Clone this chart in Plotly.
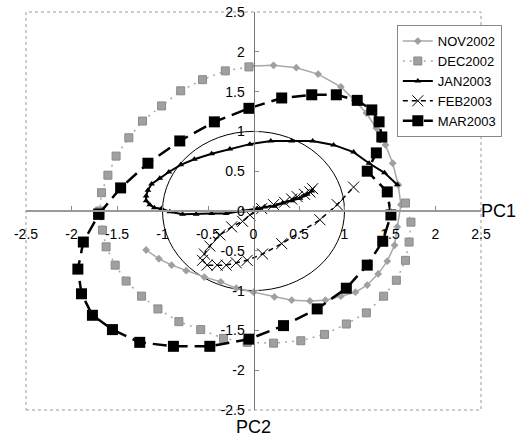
import plotly.graph_objects as go

# ---- data ----
nov_x = [-1.18, -1.04, -0.90, -0.74, -0.54, -0.36, -0.19, 0.00, 0.23, 0.42, 0.62, 0.79, 0.96, 1.12,
         1.25, 1.37, 1.47, 1.55, 1.58, 1.62, 1.59, 1.53, 1.45, 1.35, 1.24, 1.11, 0.96, 0.71, 0.47, 0.22, -0.03]
nov_y = [-0.49, -0.60, -0.68, -0.75, -0.83, -0.89, -0.97, -1.02, -1.08, -1.12, -1.13, -1.12, -1.07, -1.02,
         -0.93, -0.79, -0.63, -0.43, -0.20, 0.08, 0.33, 0.60, 0.83, 1.04, 1.23, 1.39, 1.56, 1.72, 1.80, 1.83, 1.82]

dec_x = [-0.05, -0.31, -0.56, -0.80, -1.01, -1.22, -1.37, -1.51, -1.60, -1.67, -1.69, -1.66, -1.62, -1.52,
         -1.40, -1.23, -1.05, -0.82, -0.58, -0.33, -0.07, 0.22, 0.52, 0.78, 1.02, 1.24, 1.43, 1.57, 1.67,
         1.71, 1.73, 1.67]
dec_y = [1.81, 1.76, 1.65, 1.51, 1.32, 1.13, 0.92, 0.69, 0.45, 0.23, 0.00, -0.24, -0.45, -0.68,
         -0.88, -1.07, -1.23, -1.39, -1.49, -1.60, -1.65, -1.66, -1.63, -1.55, -1.42, -1.28, -1.07, -0.87, -0.62,
         -0.39, -0.14, 0.10]

jan_x = [0.64, 0.59, 0.51, 0.42, 0.32, 0.23, 0.12, 0.04, -0.12, -0.30, -0.46, -0.63, -0.78, -0.92, -1.01,
         -1.09, -1.14, -1.18, -1.18, -1.16, -1.12, -1.03, -0.93, -0.80, -0.65, -0.46, -0.26, -0.04, 0.19,
         0.42, 0.65, 0.88, 1.10, 1.27, 1.44, 1.58]
jan_y = [0.25, 0.21, 0.16, 0.13, 0.10, 0.06, 0.05, 0.03, 0.00, -0.03, -0.03, -0.04, -0.04, -0.01, 0.03,
         0.04, 0.08, 0.13, 0.19, 0.26, 0.34, 0.41, 0.49, 0.58, 0.65, 0.72, 0.78, 0.84, 0.88,
         0.88, 0.88, 0.83, 0.74, 0.60, 0.48, 0.33]

feb_x = [0.65, 0.62, 0.56, 0.48, 0.42, 0.34, 0.22, 0.09, -0.04, -0.12, -0.24, -0.37, -0.48, -0.54, -0.56,
         -0.51, -0.40, -0.30, -0.19, -0.07, 0.10, 0.31, 0.73, 0.92, 1.10]
feb_y = [0.28, 0.24, 0.21, 0.18, 0.15, 0.11, 0.08, 0.03, -0.05, -0.13, -0.20, -0.30, -0.44, -0.54, -0.62,
         -0.68, -0.68, -0.68, -0.65, -0.62, -0.54, -0.41, -0.11, 0.08, 0.30]

mar_x = [-1.70, -1.46, -1.16, -0.81, -0.43, -0.05, 0.31, 0.64, 0.91, 1.14, 1.30, 1.38, 1.41, 1.35, 1.25,
         1.47, 1.51, 1.42, 1.25, 1.02, 0.70, 0.33, -0.05, -0.48, -0.88, -1.25, -1.55, -1.77, -1.89, -1.93,
         -1.87, -1.70]
mar_y = [-0.04, 0.29, 0.60, 0.88, 1.12, 1.29, 1.42, 1.46, 1.46, 1.39, 1.27, 1.12, 0.93, 0.73, 0.50,
         0.24, -0.05, -0.38, -0.68, -0.97, -1.23, -1.44, -1.61, -1.70, -1.70, -1.65, -1.49, -1.31, -1.04, -0.73,
         -0.39, -0.04]

tick_vals = [-2.5, -2, -1.5, -1, -0.5, 0, 0.5, 1, 1.5, 2, 2.5]
tick_text = ["-2.5", "-2", "-1.5", "-1", "-0.5", "0", "0.5", "1", "1.5", "2", "2.5"]

FONT = "Liberation Sans, Arial, sans-serif"

fig = go.Figure()

fig.add_trace(go.Scatter(
    x=nov_x, y=nov_y, name="NOV2002", mode="lines+markers",
    line=dict(color="#a8a8a8", width=1.5),
    marker=dict(symbol="diamond", size=6, color="#a0a0a0")))

fig.add_trace(go.Scatter(
    x=dec_x, y=dec_y, name="DEC2002", mode="lines+markers",
    line=dict(color="#a8a8a8", width=1.5, dash="2px,5px"),
    marker=dict(symbol="square", size=8, color="#a0a0a0", line=dict(color="#8a8a8a", width=1))))

fig.add_trace(go.Scatter(
    x=jan_x, y=jan_y, name="JAN2003", mode="lines+markers",
    line=dict(color="black", width=2),
    marker=dict(symbol="triangle-up", size=6, color="black")))

fig.add_trace(go.Scatter(
    x=feb_x, y=feb_y, name="FEB2003", mode="lines+markers",
    line=dict(color="black", width=1.5, dash="5px,4px"),
    marker=dict(symbol="x-thin-open", size=11, color="black", line=dict(color="black", width=1))))

fig.add_trace(go.Scatter(
    x=mar_x, y=mar_y, name="MAR2003", mode="lines+markers",
    line=dict(color="black", width=2.5, dash="14px,7px"),
    marker=dict(symbol="square", size=11, color="black")))

# unit circle and the dotted plot frame
fig.add_shape(type="circle", xref="x", yref="y", x0=-1, y0=-1, x1=1, y1=1,
              line=dict(color="black", width=1), layer="below")
fig.add_shape(type="rect", xref="paper", yref="paper", x0=0, y0=0, x1=1, y1=1,
              line=dict(color="#999999", width=1, dash="dot"), layer="below")

axis_common = dict(
    range=[-2.5, 2.5], tickvals=tick_vals, ticktext=tick_text,
    showgrid=False, zeroline=False, showline=True,
    ticks="inside", ticklen=4, tickcolor="#888888",
    tickfont=dict(family=FONT, size=14, color="black"),
    anchor="free", position=0.5, fixedrange=True, automargin=False,
    ticklabeloverflow="allow",
)

fig.update_layout(
    width=530, height=436,
    margin=dict(l=26, r=49, t=12, b=26, autoexpand=False),
    paper_bgcolor="white", plot_bgcolor="white",
    xaxis=dict(axis_common, linecolor="#9a9a9a", linewidth=2, ticklabelstandoff=10),
    yaxis=dict(axis_common, linecolor="#777777", linewidth=1, ticklabelstandoff=6),
    showlegend=True,
    legend=dict(x=0.815, y=0.967, xanchor="left", yanchor="top",
                bgcolor="white", bordercolor="#888888", borderwidth=1,
                font=dict(family=FONT, size=13, color="black"),
                tracegroupgap=0, itemwidth=30),
    annotations=[
        dict(text="PC1", xref="paper", yref="paper", x=0.995, y=0.5, xanchor="left", yanchor="middle",
             showarrow=False, font=dict(family=FONT, size=18, color="black")),
        dict(text="PC2", xref="paper", yref="paper", x=0.5, y=-0.012, xanchor="center", yanchor="top",
             showarrow=False, font=dict(family=FONT, size=18, color="black")),
    ],
)

# remove the browser's default 8px body margin so the figure fills the 530x436 window
fig.write_html("out.html", config={"displayModeBar": False},
               post_script="document.body.style.margin='0';")
